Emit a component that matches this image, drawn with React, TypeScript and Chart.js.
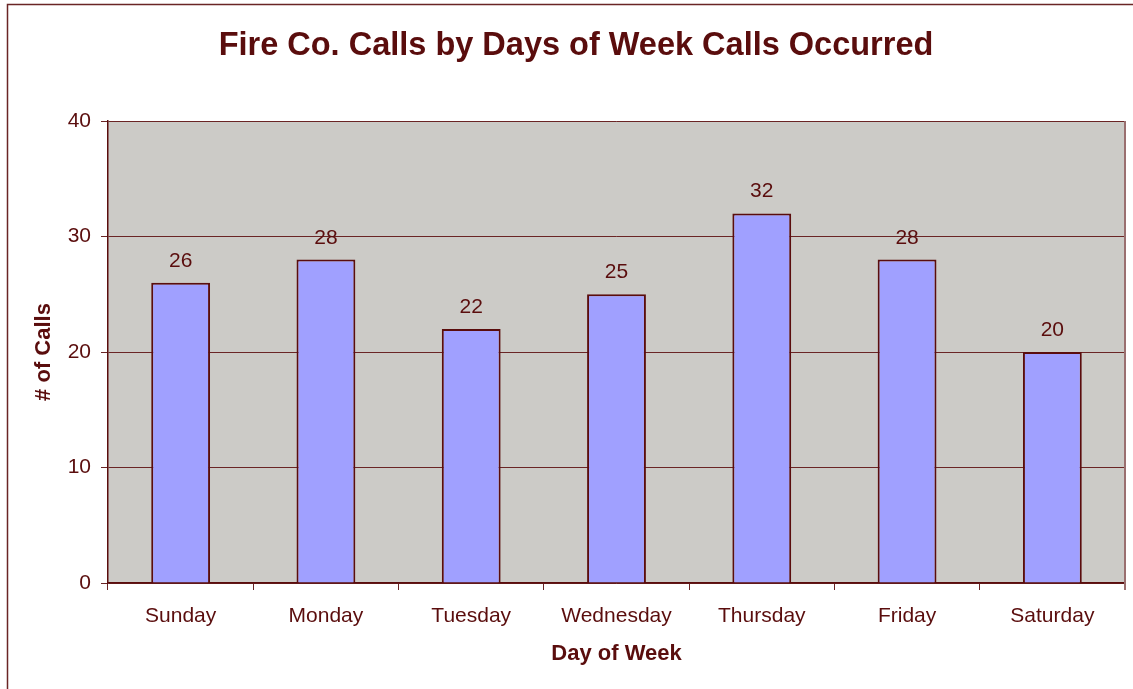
import React, { useEffect, useRef } from "react";
import { Chart, registerables } from "chart.js";

Chart.register(...registerables);

const days = ["Sunday", "Monday", "Tuesday", "Wednesday", "Thursday", "Friday", "Saturday"];
const calls = [26, 28, 22, 25, 32, 28, 20];
const titleText = "Fire Co. Calls by Days of Week Calls Occurred";
const xTitle = "Day of Week";
const yTitle = "# of Calls";

const MAROON = "#5a0d0d";
const FONT = "'Liberation Sans', Arial, sans-serif";

export default function App() {
  const ref = useRef<HTMLCanvasElement | null>(null);

  useEffect(() => {
    if (!ref.current) return;

    const framePlugin = {
      id: "frame",
      beforeDraw(chart: any) {
        const { ctx, chartArea } = chart;
        ctx.save();
        ctx.fillStyle = "#ffffff";
        ctx.fillRect(0, 0, chart.width, chart.height);
        ctx.strokeStyle = "#6a2525";
        ctx.lineWidth = 1.5;
        ctx.beginPath();
        ctx.moveTo(7.5, chart.height + 5);
        ctx.lineTo(7.5, 4.5);
        ctx.lineTo(chart.width + 5, 4.5);
        ctx.stroke();
        ctx.fillStyle = "#cccbc7";
        ctx.fillRect(chartArea.left, chartArea.top, chartArea.right - chartArea.left, chartArea.bottom - chartArea.top);
        ctx.restore();
      },
      afterDraw(chart: any) {
        const { ctx, chartArea } = chart;
        ctx.save();
        ctx.strokeStyle = "#9a6f6f";
        ctx.lineWidth = 2;
        ctx.beginPath();
        ctx.moveTo(chartArea.right, chartArea.top);
        ctx.lineTo(chartArea.right, chartArea.bottom + 7);
        ctx.stroke();
        ctx.restore();
      },
    };

    const labelPlugin = {
      id: "valueLabels",
      afterDatasetsDraw(chart: any) {
        const { ctx } = chart;
        const meta = chart.getDatasetMeta(0);
        ctx.save();
        ctx.fillStyle = MAROON;
        ctx.font = `21px ${FONT}`;
        ctx.textAlign = "center";
        ctx.textBaseline = "alphabetic";
        meta.data.forEach((bar: any, i: number) => {
          ctx.fillText(String(calls[i]), bar.x, bar.y - 16);
        });
        ctx.restore();
      },
    };

    const chart = new Chart(ref.current, {
      type: "bar",
      data: {
        labels: days,
        datasets: [
          {
            data: calls,
            backgroundColor: "#a0a0ff",
            borderColor: MAROON,
            borderWidth: 2,
            barPercentage: 0.405,
            categoryPercentage: 1,
          },
        ],
      },
      options: {
        animation: false,
        responsive: false,
        devicePixelRatio: 1,
        layout: { padding: { left: 27, right: 8, top: 0, bottom: 0 } },
        plugins: {
          legend: { display: false },
          tooltip: { enabled: false },
          title: {
            display: true,
            text: titleText,
            color: MAROON,
            font: { family: FONT, size: 32.5, weight: "bold", lineHeight: 1.2 },
            padding: { top: 26.5, bottom: 55.5 },
          },
        },
        scales: {
          x: {
            offset: true,
            grid: {
              offset: true,
              drawOnChartArea: false,
              drawTicks: true,
              tickLength: 7,
              color: "#6a2525",
              lineWidth: 1,
            },
            border: { display: true, color: MAROON, width: 1.5 },
            ticks: {
              color: MAROON,
              font: { family: FONT, size: 21 },
              padding: 14,
              maxRotation: 0,
              autoSkip: false,
            },
            title: {
              display: true,
              text: xTitle,
              color: MAROON,
              font: { family: FONT, size: 22, weight: "bold", lineHeight: 1.2 },
              padding: { top: 0, bottom: 21.5 },
            },
            afterFit(scale: any) {
              scale.height = 106;
            },
          },
          y: {
            min: 0,
            max: 40,
            ticks: {
              stepSize: 10,
              color: MAROON,
              font: { family: FONT, size: 21 },
              padding: 10,
            },
            grid: {
              drawOnChartArea: true,
              drawTicks: true,
              tickLength: 7,
              color: "#6a2525",
              lineWidth: 1,
            },
            border: { display: true, color: MAROON, width: 1.5 },
            title: {
              display: true,
              text: yTitle,
              color: MAROON,
              font: { family: FONT, size: 22, weight: "bold", lineHeight: 1.2 },
              padding: { top: 3.8, bottom: 0 },
            },
            afterFit(scale: any) {
              scale.width = 81;
            },
          },
        },
      },
      plugins: [framePlugin, labelPlugin],
    });

    return () => chart.destroy();
  }, []);

  return (
    <div style={{ position: "absolute", left: 0, top: 0, width: 1133, height: 689, background: "#ffffff" }}>
      <canvas ref={ref} width={1133} height={689} style={{ width: 1133, height: 689, display: "block" }} />
    </div>
  );
}
